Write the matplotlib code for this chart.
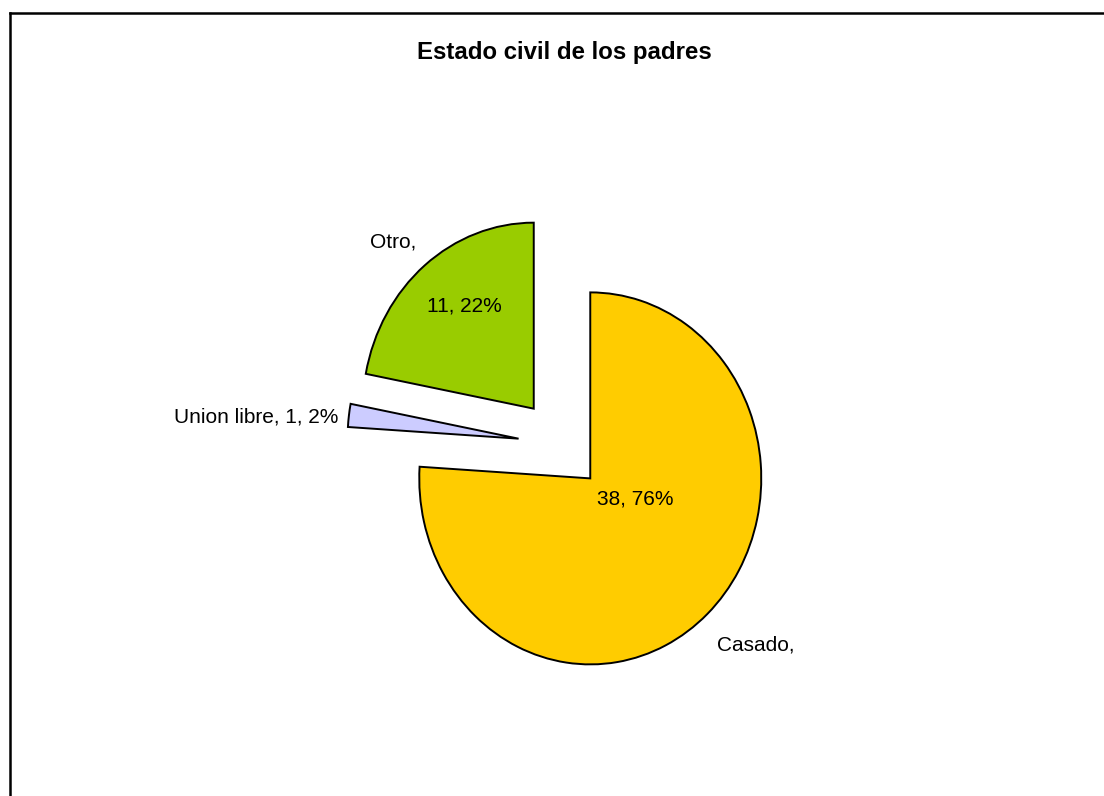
import matplotlib
matplotlib.use("Agg")
import matplotlib.pyplot as plt
from matplotlib.lines import Line2D

plt.rcParams['font.family'] = ['Liberation Sans', 'DejaVu Sans']

# Data
categories = ["Casado", "Union libre", "Otro"]
counts = [38, 1, 11]
percents = [76, 2, 22]
colors = ["#FFCC00", "#CCCCFF", "#99CC00"]
explode = [0.25, 0.25, 0.25]
title = "Estado civil de los padres"

W, H = 1104, 796
fig = plt.figure(figsize=(W / 100, H / 100), dpi=100)
fig.patch.set_facecolor("white")

# Outer frame (left and top edges visible)
fx0, fy0 = 10 / W, 1 - 12.5 / H
fig.add_artist(Line2D([fx0, fx0], [fy0, -0.01], color="black", lw=1.8,
                      transform=fig.transFigure))
fig.add_artist(Line2D([fx0, 1.01], [fy0, fy0], color="black", lw=1.8,
                      transform=fig.transFigure))

ax = fig.add_axes([0, 0, 1, 1])
cx, cy = 561.0, 444.5      # pie centre in pixels (from top-left)
rx, ry = 171.0, 186.0      # pixel size of unit radius

wedges, _ = ax.pie(counts, colors=colors, explode=explode, startangle=90,
                   counterclock=False, radius=1.0,
                   wedgeprops=dict(edgecolor="black", linewidth=1.4))
ax.set_aspect("auto")
ax.set_xlim((0 - cx) / rx, (W - cx) / rx)
ax.set_ylim((cy - H) / ry, (cy - 0) / ry)
ax.axis("off")


def px(x, y):
    """Pixel position (top-left origin) to data coordinates."""
    return (x - cx) / rx, (cy - y) / ry


fs = 15
ax.text(*px(564.5, 59), title, ha="center", va="baseline",
        fontsize=17.3, fontweight="bold")

# Category labels and value/percentage labels
ax.text(*px(717, 651), f"{categories[0]},", ha="left", va="baseline", fontsize=fs)
ax.text(*px(597, 505), f"{counts[0]}, {percents[0]}%", ha="left",
        va="baseline", fontsize=fs)
ax.text(*px(338, 423), f"{categories[1]}, {counts[1]}, {percents[1]}%",
        ha="right", va="baseline", fontsize=fs)
ax.text(*px(370, 248), f"{categories[2]},", ha="left", va="baseline", fontsize=fs)
ax.text(*px(427, 312), f"{counts[2]}, {percents[2]}%", ha="left",
        va="baseline", fontsize=fs)

fig.savefig("out.png", dpi=100, facecolor="white")
